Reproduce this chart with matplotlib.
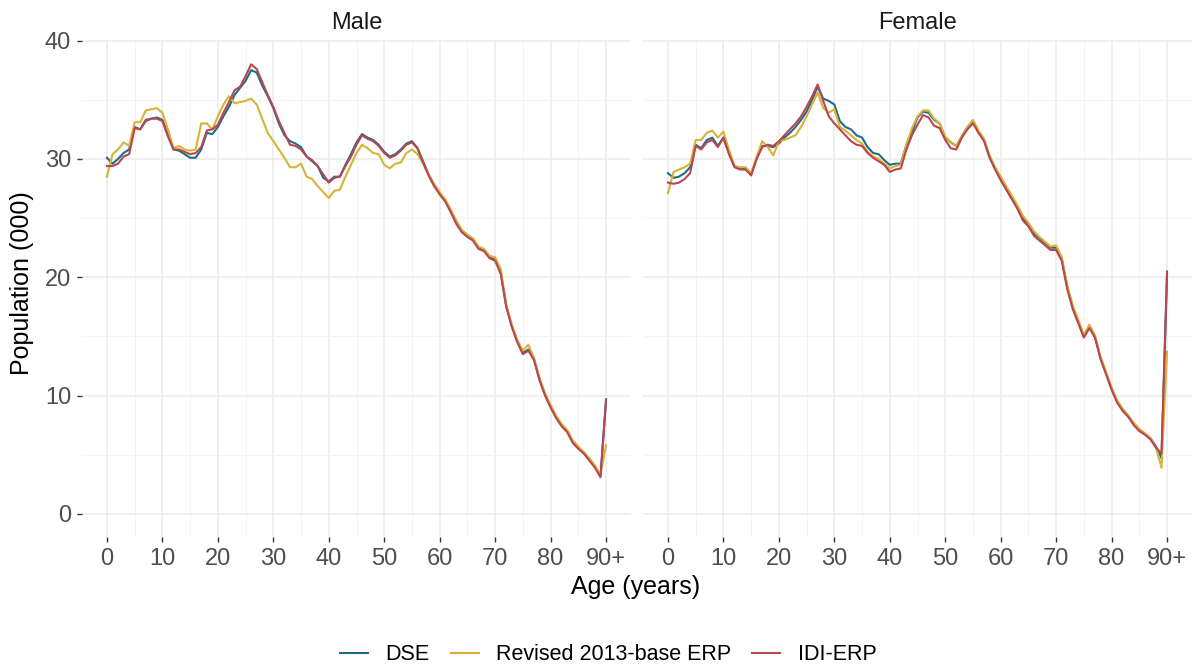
import matplotlib
matplotlib.use("Agg")
import matplotlib.pyplot as plt
import numpy as np

plt.rcParams['font.family'] = ['Liberation Sans', 'DejaVu Sans']

# ages 0..89 and 90+ (plotted at 90)
ages = np.arange(0, 91)
xtick_pos = [0, 10, 20, 30, 40, 50, 60, 70, 80, 90]
xtick_lab = ['0', '10', '20', '30', '40', '50', '60', '70', '80', '90+']

male_dse = [30.1, 29.6, 30.0, 30.5, 30.8, 32.7, 32.5, 33.3, 33.4, 33.5,
            33.3, 32.0, 30.8, 30.7, 30.4, 30.1, 30.1, 30.8, 32.2, 32.1,
            32.7, 33.6, 34.4, 35.4, 36.0, 36.6, 37.5, 37.3, 36.2, 35.3,
            34.3, 33.0, 32.0, 31.5, 31.3, 31.0, 30.2, 29.8, 29.4, 28.4,
            28.1, 28.5, 28.5, 29.5, 30.4, 31.4, 32.1, 31.8, 31.6, 31.2,
            30.6, 30.2, 30.4, 30.8, 31.3, 31.5, 30.9, 29.8, 28.7, 27.8,
            27.1, 26.5, 25.6, 24.6, 23.9, 23.5, 23.2, 22.5, 22.3, 21.7,
            21.5, 20.4, 17.6, 15.9, 14.6, 13.6, 13.9, 13.1, 11.4, 10.1,
            9.1, 8.2, 7.5, 7.0, 6.1, 5.6, 5.2, 4.6, 4.0, 3.2, 9.6]
male_erp = [28.5, 30.4, 30.8, 31.4, 31.1, 33.1, 33.1, 34.1, 34.2, 34.3,
            33.9, 32.5, 30.9, 31.1, 30.8, 30.7, 30.8, 33.0, 33.0, 32.5,
            33.6, 34.6, 35.3, 34.7, 34.8, 34.9, 35.1, 34.6, 33.4, 32.2,
            31.5, 30.8, 30.1, 29.3, 29.3, 29.6, 28.5, 28.3, 27.7, 27.2,
            26.7, 27.3, 27.4, 28.5, 29.5, 30.5, 31.2, 30.9, 30.5, 30.4,
            29.5, 29.2, 29.6, 29.7, 30.5, 30.8, 30.4, 29.6, 28.7, 27.9,
            27.2, 26.6, 25.7, 24.8, 24.0, 23.6, 23.3, 22.6, 22.4, 21.8,
            21.7, 20.7, 17.7, 16.0, 14.7, 13.8, 14.3, 13.2, 11.5, 10.2,
            9.2, 8.3, 7.6, 7.1, 6.2, 5.7, 5.2, 4.7, 4.1, 3.3, 5.8]
male_idi = [29.4, 29.4, 29.6, 30.2, 30.4, 32.6, 32.5, 33.2, 33.4, 33.4,
            33.2, 31.9, 30.8, 30.8, 30.6, 30.4, 30.5, 31.0, 32.4, 32.5,
            32.9, 33.9, 34.8, 35.8, 36.1, 37.0, 38.0, 37.6, 36.5, 35.4,
            34.4, 33.2, 32.2, 31.2, 31.1, 30.8, 30.2, 29.9, 29.4, 28.7,
            28.0, 28.4, 28.5, 29.4, 30.2, 31.2, 32.0, 31.7, 31.5, 31.1,
            30.5, 30.1, 30.3, 30.7, 31.2, 31.4, 30.9, 29.7, 28.6, 27.7,
            27.0, 26.4, 25.5, 24.5, 23.8, 23.4, 23.1, 22.4, 22.2, 21.6,
            21.4, 20.3, 17.5, 15.8, 14.5, 13.5, 13.8, 13.0, 11.3, 10.0,
            9.0, 8.1, 7.4, 6.9, 6.0, 5.5, 5.1, 4.5, 3.9, 3.1, 9.7]

female_dse = [28.8, 28.4, 28.5, 28.8, 29.3, 31.2, 30.9, 31.6, 31.8, 31.1,
              31.8, 30.5, 29.4, 29.2, 29.2, 28.7, 30.1, 31.1, 31.1, 31.0,
              31.3, 31.8, 32.2, 32.7, 33.3, 34.0, 35.0, 36.1, 35.1, 34.9,
              34.6, 33.2, 32.7, 32.5, 32.0, 31.8, 31.0, 30.5, 30.4, 29.9,
              29.5, 29.6, 29.6, 31.2, 32.3, 33.5, 34.0, 33.9, 33.3, 33.0,
              31.8, 31.4, 31.1, 31.9, 32.7, 33.2, 32.3, 31.6, 30.2, 29.2,
              28.4, 27.6, 26.8, 26.0, 25.0, 24.5, 23.7, 23.3, 22.9, 22.5,
              22.5, 21.6, 19.2, 17.5, 16.3, 15.0, 15.9, 15.0, 13.2, 11.9,
              10.6, 9.5, 8.8, 8.3, 7.6, 7.1, 6.8, 6.4, 5.7, 4.7, 20.2]
female_erp = [27.1, 28.9, 29.1, 29.3, 29.6, 31.6, 31.6, 32.2, 32.4, 31.8,
              32.3, 30.8, 29.4, 29.3, 29.3, 28.8, 30.2, 31.5, 31.0, 30.3,
              31.5, 31.6, 31.8, 32.0, 32.7, 33.6, 34.6, 35.6, 34.3, 33.9,
              34.2, 32.7, 32.4, 32.0, 31.6, 31.3, 30.6, 30.2, 30.0, 29.6,
              29.2, 29.4, 29.5, 31.2, 32.6, 33.6, 34.1, 34.1, 33.4, 33.0,
              31.9, 31.4, 31.1, 31.9, 32.7, 33.3, 32.4, 31.7, 30.3, 29.3,
              28.5, 27.7, 26.9, 26.1, 25.2, 24.6, 23.9, 23.4, 23.0, 22.6,
              22.7, 21.7, 19.3, 17.6, 16.4, 15.1, 16.0, 15.1, 13.3, 12.0,
              10.7, 9.6, 8.9, 8.3, 7.7, 7.2, 6.8, 6.4, 5.6, 3.9, 13.7]
female_idi = [28.0, 27.9, 28.0, 28.3, 28.8, 31.1, 30.8, 31.4, 31.6, 31.0,
              31.8, 30.4, 29.3, 29.1, 29.1, 28.6, 30.0, 31.0, 31.2, 31.1,
              31.5, 32.0, 32.5, 33.0, 33.6, 34.4, 35.3, 36.3, 34.9, 33.6,
              33.0, 32.5, 32.0, 31.5, 31.2, 31.1, 30.5, 30.1, 29.8, 29.5,
              28.9, 29.1, 29.2, 30.8, 32.0, 32.9, 33.7, 33.5, 32.8, 32.6,
              31.6, 30.9, 30.8, 31.8, 32.5, 33.0, 32.2, 31.5, 30.1, 29.1,
              28.2, 27.4, 26.6, 25.8, 24.8, 24.3, 23.5, 23.1, 22.7, 22.3,
              22.3, 21.4, 19.0, 17.3, 16.1, 14.9, 15.7, 14.9, 13.1, 11.8,
              10.5, 9.4, 8.7, 8.2, 7.5, 7.0, 6.7, 6.3, 5.6, 5.1, 20.5]

series_names = ['DSE', 'Revised 2013-base ERP', 'IDI-ERP']
colors = ['#1f6b8c', '#d8b336', '#b9474f']
panels = [('Male', [male_dse, male_erp, male_idi]),
          ('Female', [female_dse, female_erp, female_idi])]

fig = plt.figure(figsize=(11.98, 6.71), dpi=100)
W, H = 1198, 671
lefts = [82, 643]
pw = 549
top, bottom = 40, 537

axes = []
for i, (title, data) in enumerate(panels):
    ax = fig.add_axes([lefts[i] / W, 1 - bottom / H, pw / W, (bottom - top) / H])
    for y, c, name in zip(data, colors, series_names):
        ax.plot(ages, y, color=c, lw=1.5, label=name)
    ax.set_xlim(-4.5, 94.5)
    ax.set_ylim(-1.95, 40.05)
    ax.set_xticks(xtick_pos)
    ax.set_xticklabels(xtick_lab)
    ax.set_xticks(np.arange(5, 90, 10), minor=True)
    ax.set_yticks([0, 10, 20, 30, 40])
    ax.set_yticks([5, 15, 25, 35], minor=True)
    ax.grid(which='major', color='#ebebeb', lw=1.1)
    ax.grid(which='minor', color='#f2f2f2', lw=0.6)
    ax.set_axisbelow(True)
    for s in ax.spines.values():
        s.set_visible(False)
    ax.tick_params(which='major', length=3.6, width=1.0, color='#333333',
                   labelsize=17, labelcolor='#4d4d4d', pad=4.3)
    ax.tick_params(which='minor', length=0)
    if i == 1:
        ax.tick_params(axis='y', labelleft=False, length=0)
    ax.set_title(title, fontsize=17, color='#1a1a1a', pad=8)
    axes.append(ax)

fig.text(22 / W, 1 - 283 / H, 'Population (000)', rotation=90, fontsize=18,
         ha='center', va='center')
fig.text(636 / W, 1 - 587 / H, 'Age (years)', fontsize=18, ha='center', va='center')

handles, labels = axes[0].get_legend_handles_labels()
fig.legend(handles, labels, loc='center', bbox_to_anchor=(608 / W, 1 - 655 / H),
           ncol=3, frameon=False, fontsize=15.5, handlelength=1.3,
           columnspacing=1.0, handletextpad=0.8)

fig.savefig('out.png', dpi=100)
